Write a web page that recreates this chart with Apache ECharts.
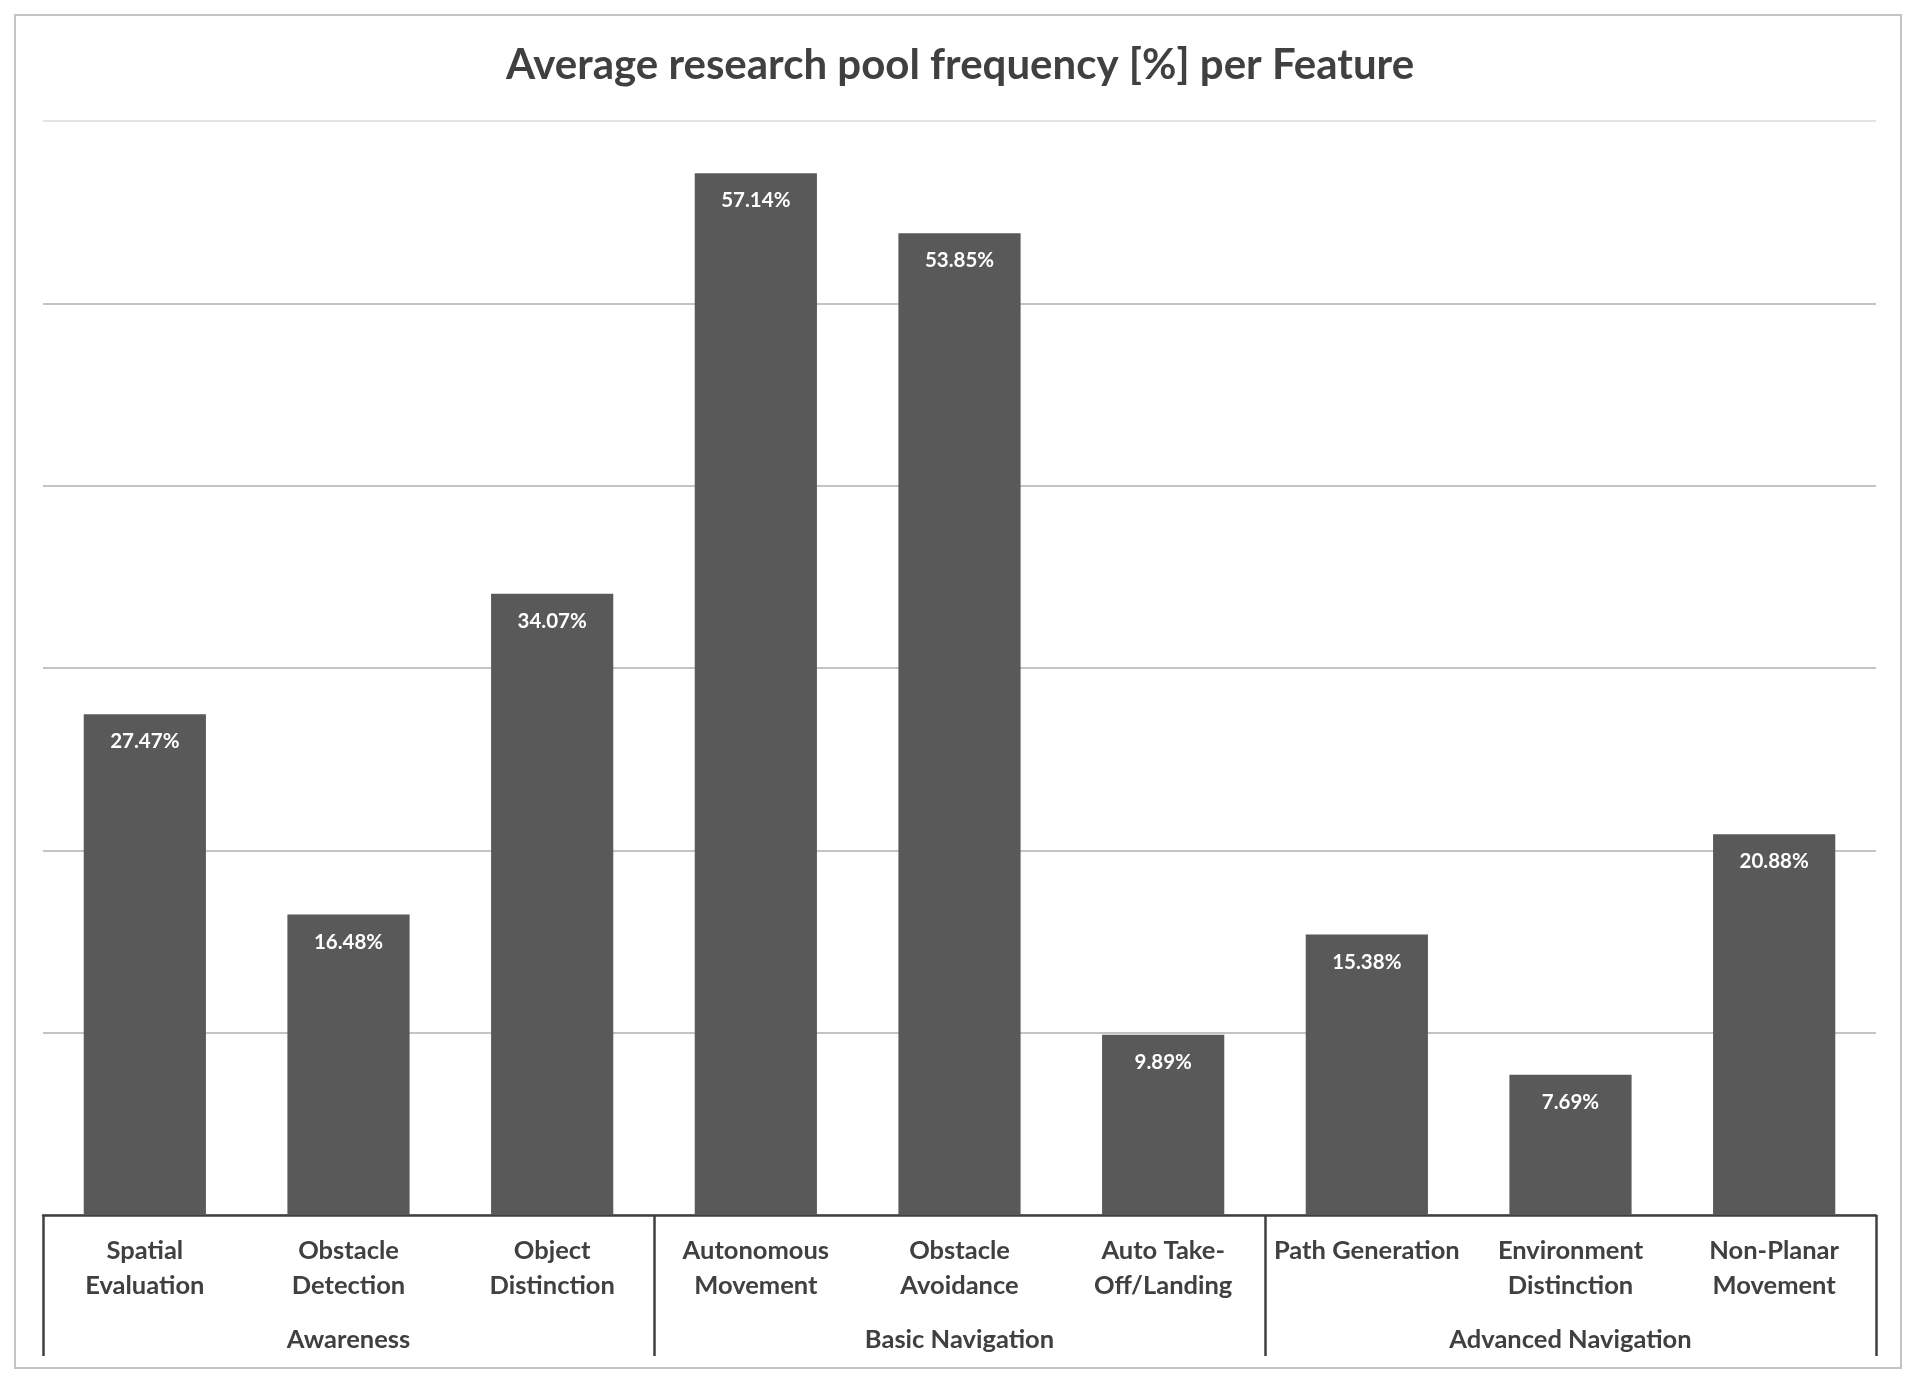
<!DOCTYPE html>
<html>
<head>
<meta charset="utf-8">
<script src="https://cdn.jsdelivr.net/npm/echarts@6/dist/echarts.min.js"></script>
<style>
html,body{margin:0;padding:0;background:#fff;}
#chart{width:1920px;height:1385px;}
#frame{position:absolute;left:14px;top:14px;width:1888px;height:1355px;box-sizing:border-box;border:2px solid #c4c4c4;pointer-events:none;}
</style>
</head>
<body>
<div id="chart"></div>
<div id="frame"></div>
<script>
const title = 'Average research pool frequency [%] per Feature';
const categories = ['Spatial\nEvaluation','Obstacle\nDetection','Object\nDistinction','Autonomous\nMovement','Obstacle\nAvoidance','Auto Take-\nOff/Landing','Path Generation','Environment\nDistinction','Non-Planar\nMovement'];
const groups = ['Awareness','Basic Navigation','Advanced Navigation'];
const values = [27.47, 16.48, 34.07, 57.14, 53.85, 9.89, 15.38, 7.69, 20.88];
const yTicks = [0, 10, 20, 30, 40, 50, 60];

const FONT = 'Lato';
const TXT = '#404040';
const chart = echarts.init(document.getElementById('chart'));
chart.setOption({
  backgroundColor: '#ffffff',
  animation: false,
  title: {
    text: title,
    left: 'center',
    top: 39,
    textStyle: {fontFamily: FONT, fontWeight: 'bold', fontSize: 42, color: TXT}
  },
  grid: {left: 43, right: 44, top: 121, bottom: 170, containLabel: false},
  xAxis: [
    {
      type: 'category',
      data: categories,
      position: 'bottom',
      axisLine: {show: true, lineStyle: {color: '#404040', width: 2.5}},
      axisTick: {show: false},
      axisLabel: {fontFamily: FONT, fontWeight: 'bold', fontSize: 25.5, color: TXT, lineHeight: 35, margin: 18, interval: 0}
    },
    {
      type: 'category',
      data: groups,
      position: 'bottom',
      axisLine: {show: false},
      axisTick: {show: true, length: 141, lineStyle: {color: '#404040', width: 2.5}},
      axisLabel: {fontFamily: FONT, fontWeight: 'bold', fontSize: 25.5, color: TXT, margin: 112, interval: 0}
    }
  ],
  yAxis: {
    type: 'value',
    min: yTicks[0],
    max: yTicks[yTicks.length - 1],
    interval: 10,
    axisLine: {show: false},
    axisTick: {show: false},
    axisLabel: {show: false},
    splitLine: {show: true, lineStyle: {color: ['#c4c4c4','#c4c4c4','#c4c4c4','#c4c4c4','#c4c4c4','#c4c4c4','#e4e4e4'], width: 2}}
  },
  series: [{
    type: 'bar',
    xAxisIndex: 0,
    data: values,
    barCategoryGap: '40%',
    itemStyle: {color: '#595959'},
    label: {
      show: true,
      position: 'insideTop',
      distance: 17,
      formatter: p => p.value.toFixed(2) + '%',
      fontFamily: FONT, fontWeight: 'bold', fontSize: 20.5, color: '#ffffff'
    }
  }]
});
</script>
</body>
</html>
